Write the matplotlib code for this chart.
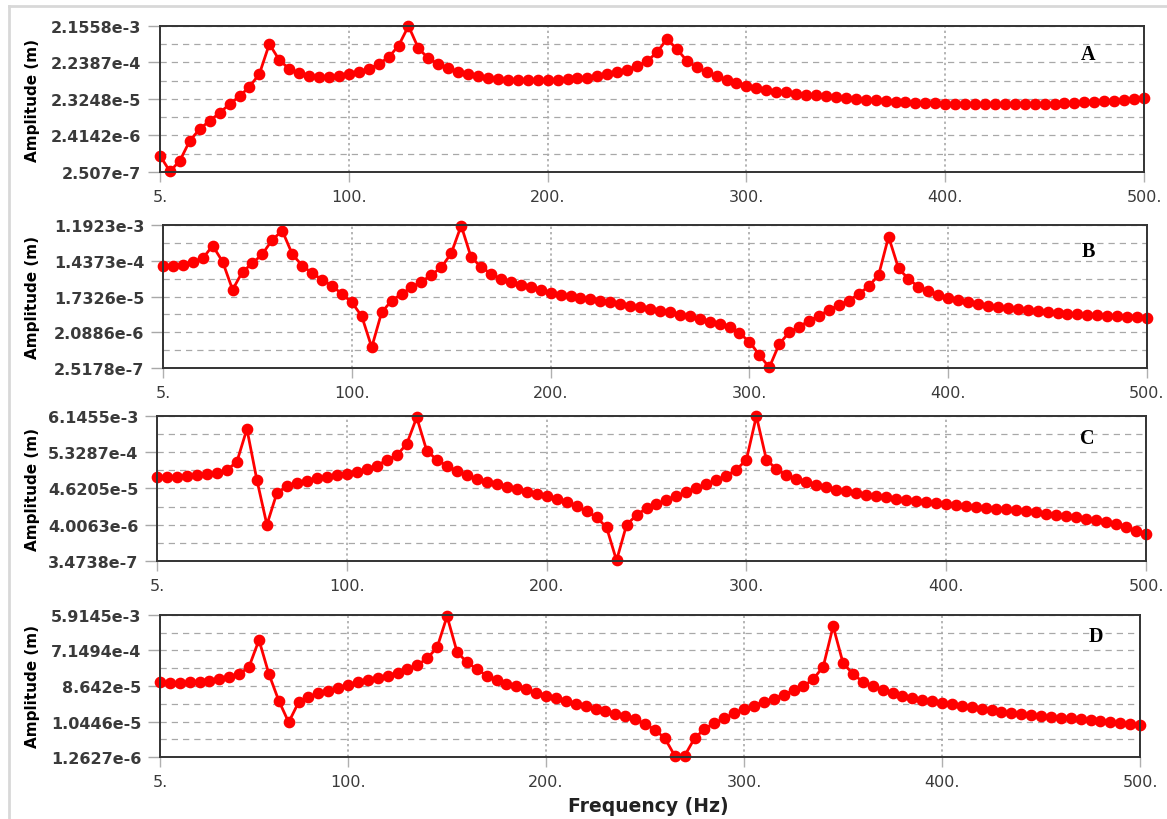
import matplotlib
matplotlib.use("Agg")
import matplotlib.pyplot as plt
from matplotlib.lines import Line2D
from matplotlib.ticker import FixedLocator, NullFormatter

# ---------------- data ----------------
freq = list(range(5, 505, 5))

amp_A = [6.9e-7, 2.6e-7, 5.05e-7, 1.75e-6, 3.61e-6, 6.05e-6, 9.75e-6, 1.70e-5, 2.75e-5, 4.98e-5,
         1.10e-4, 7.06e-4, 2.62e-4, 1.50e-4, 1.17e-4, 9.87e-5, 9.27e-5, 9.27e-5, 9.87e-5, 1.10e-4,
         1.265e-4, 1.50e-4, 2.04e-4, 3.09e-4, 6.35e-4, 2.15e-3, 5.40e-4, 2.90e-4, 2.04e-4, 1.59e-4,
         1.265e-4, 1.10e-4, 9.51e-5, 8.72e-5, 8.04e-5, 7.56e-5, 7.42e-5, 7.42e-5, 7.42e-5, 7.42e-5,
         7.56e-5, 7.89e-5, 8.40e-5, 8.72e-5, 9.51e-5, 1.077e-4, 1.22e-4, 1.43e-4, 1.835e-4, 2.41e-4,
         4.22e-4, 9.62e-4, 5.17e-4, 2.50e-4, 1.66e-4, 1.22e-4, 9.51e-5, 7.56e-5, 6.16e-5, 5.11e-5,
         4.52e-5, 3.99e-5, 3.70e-5, 3.48e-5, 3.27e-5, 3.07e-5, 2.89e-5, 2.72e-5, 2.58e-5, 2.47e-5,
         2.33e-5, 2.23e-5, 2.14e-5, 2.05e-5, 1.99e-5, 1.93e-5, 1.87e-5, 1.81e-5, 1.76e-5, 1.70e-5,
         1.70e-5, 1.70e-5, 1.70e-5, 1.70e-5, 1.70e-5, 1.70e-5, 1.70e-5, 1.70e-5, 1.70e-5, 1.71e-5,
         1.74e-5, 1.78e-5, 1.84e-5, 1.89e-5, 1.95e-5, 2.01e-5, 2.09e-5, 2.18e-5, 2.27e-5, 2.43e-5]

amp_B = [1.073e-4, 1.073e-4, 1.138e-4, 1.358e-4, 1.662e-4, 3.50e-4, 1.358e-4, 2.59e-5, 7.52e-5, 1.236e-4,
         2.14e-4, 4.99e-4, 8.51e-4, 2.14e-4, 1.073e-4, 6.96e-5, 4.68e-5, 3.28e-5, 2.01e-5, 1.229e-5,
         5.37e-6, 8.57e-7, 6.80e-6, 1.351e-5, 2.01e-5, 2.99e-5, 4.16e-5, 6.18e-5, 9.75e-5, 2.23e-4,
         1.15e-3, 1.763e-4, 1.01e-4, 6.56e-5, 4.88e-5, 4.02e-5, 3.42e-5, 2.99e-5, 2.545e-5, 2.13e-5,
         1.894e-5, 1.753e-5, 1.614e-5, 1.494e-5, 1.351e-5, 1.229e-5, 1.111e-5, 1.005e-5, 9.14e-6, 8.27e-6,
         7.48e-6, 6.80e-6, 5.90e-6, 5.37e-6, 4.57e-6, 3.90e-6, 3.40e-6, 2.80e-6, 1.963e-6, 1.194e-6,
         5.43e-7, 2.6e-7, 1.042e-6, 2.08e-6, 2.90e-6, 4.14e-6, 5.56e-6, 7.79e-6, 1.047e-5, 1.351e-5,
         2.01e-5, 3.17e-5, 6.18e-5, 5.97e-4, 9.19e-5, 4.88e-5, 3.09e-5, 2.44e-5, 1.894e-5, 1.585e-5,
         1.408e-5, 1.229e-5, 1.111e-5, 1.005e-5, 9.47e-6, 8.77e-6, 8.27e-6, 7.79e-6, 7.22e-6, 6.80e-6,
         6.53e-6, 6.26e-6, 6.15e-6, 5.90e-6, 5.69e-6, 5.56e-6, 5.37e-6, 5.24e-6, 5.06e-6, 4.94e-6]

amp_C = [1.038e-4, 1.024e-4, 1.038e-4, 1.074e-4, 1.125e-4, 1.188e-4, 1.314e-4, 1.609e-4, 2.818e-4, 2.557e-3,
         8.20e-5, 4.0e-6, 3.41e-5, 5.36e-5, 6.56e-5, 7.82e-5, 9.19e-5, 1.024e-4, 1.149e-4, 1.254e-4,
         1.435e-4, 1.721e-4, 2.15e-4, 3.16e-4, 4.34e-4, 9.30e-4, 5.6e-3, 5.92e-4, 3.22e-4, 2.15e-4,
         1.535e-4, 1.172e-4, 8.77e-5, 7.31e-5, 6.13e-5, 5.22e-5, 4.47e-5, 3.72e-5, 3.19e-5, 2.73e-5,
         2.28e-5, 1.822e-5, 1.390e-5, 9.93e-6, 6.62e-6, 3.37e-6, 3.6e-7, 3.94e-6, 7.73e-6, 1.215e-5,
         1.624e-5, 2.17e-5, 2.84e-5, 3.58e-5, 4.68e-5, 6.26e-5, 8.20e-5, 1.096e-4, 1.642e-4, 3.22e-4,
         6.1e-3, 3.22e-4, 1.721e-4, 1.149e-4, 8.77e-5, 7.02e-5, 5.85e-5, 5.01e-5, 4.26e-5, 3.83e-5,
         3.41e-5, 3.04e-5, 2.79e-5, 2.55e-5, 2.32e-5, 2.13e-5, 1.99e-5, 1.86e-5, 1.737e-5, 1.624e-5,
         1.518e-5, 1.419e-5, 1.326e-5, 1.240e-5, 1.182e-5, 1.136e-5, 1.062e-5, 9.93e-6, 9.28e-6, 8.44e-6,
         7.89e-6, 7.23e-6, 6.62e-6, 6.03e-6, 5.41e-6, 4.83e-6, 4.13e-6, 3.37e-6, 2.68e-6, 2.15e-6]

amp_D = [1.077e-4, 1.033e-4, 1.033e-4, 1.077e-4, 1.116e-4, 1.185e-4, 1.311e-4, 1.451e-4, 1.734e-4, 2.73e-4,
         1.335e-3, 1.765e-4, 3.60e-5, 9.96e-6, 3.28e-5, 4.57e-5, 5.60e-5, 6.53e-5, 7.81e-5, 9.17e-5,
         1.077e-4, 1.235e-4, 1.416e-4, 1.595e-4, 1.907e-4, 2.38e-4, 3.02e-4, 4.49e-4, 8.65e-4, 5.5e-3,
         6.66e-4, 3.54e-4, 2.38e-4, 1.595e-4, 1.235e-4, 9.73e-5, 8.49e-5, 7.10e-5, 5.80e-5, 4.85e-5,
         4.23e-5, 3.54e-5, 3.01e-5, 2.58e-5, 2.24e-5, 1.917e-5, 1.662e-5, 1.449e-5, 1.212e-5, 9.00e-6,
         6.41e-6, 3.84e-6, 1.364e-6, 1.364e-6, 3.84e-6, 6.68e-6, 9.55e-6, 1.264e-5, 1.701e-5, 2.20e-5,
         2.68e-5, 3.40e-5, 4.06e-5, 5.15e-5, 6.69e-5, 8.49e-5, 1.311e-4, 2.73e-4, 3.02e-3, 3.40e-4,
         1.765e-4, 1.116e-4, 8.49e-5, 6.81e-5, 5.60e-5, 4.85e-5, 4.31e-5, 3.82e-5, 3.48e-5, 3.20e-5,
         2.91e-5, 2.63e-5, 2.43e-5, 2.20e-5, 2.03e-5, 1.873e-5, 1.764e-5, 1.632e-5, 1.538e-5, 1.449e-5,
         1.366e-5, 1.31e-5, 1.264e-5, 1.19e-5, 1.142e-5, 1.076e-5, 1.014e-5, 9.55e-6, 9.17e-6, 8.64e-6]

ytick_labels_A = ["2.507e-7", "2.4142e-6", "2.3248e-5", "2.2387e-4", "2.1558e-3"]
ytick_labels_B = ["2.5178e-7", "2.0886e-6", "1.7326e-5", "1.4373e-4", "1.1923e-3"]
ytick_labels_C = ["3.4738e-7", "4.0063e-6", "4.6205e-5", "5.3287e-4", "6.1455e-3"]
ytick_labels_D = ["1.2627e-6", "1.0446e-5", "8.642e-5", "7.1494e-4", "5.9145e-3"]

xticks = [5, 100, 200, 300, 400, 500]
xtick_labels = ["5.", "100.", "200.", "300.", "400.", "500."]
panel_letters = ["A", "B", "C", "D"]

# ---------------- layout ----------------
W, H = 1167, 820
fig = plt.figure(figsize=(W / 100, H / 100), dpi=100)

# (left, top, right, bottom) in pixels
boxes = [(160, 27, 1144, 173), (163, 226, 1147, 369), (157, 417, 1146, 562), (160, 616, 1140, 758)]
letter_pos = [(0.943, 0.808), (0.940, 0.818), (0.941, 0.848), (0.955, 0.852)]

series = [amp_A, amp_B, amp_C, amp_D]
tick_sets = [ytick_labels_A, ytick_labels_B, ytick_labels_C, ytick_labels_D]

RED = "#ff0000"
for i in range(4):
    l, t, r, b = boxes[i]
    ax = fig.add_axes([l / W, 1 - b / H, (r - l) / W, (b - t) / H])
    ax.set_yscale("log")
    ax.plot(freq, series[i], color=RED, lw=2.0, marker="o", ms=7.4,
            markeredgewidth=1.0, markeredgecolor=RED, clip_on=False, zorder=3)
    labels = tick_sets[i]
    tv = [float(s) for s in labels]
    ax.set_xlim(5, 500)
    ax.set_ylim(tv[0], tv[-1])
    ax.yaxis.set_major_locator(FixedLocator(tv))
    ax.set_yticklabels(labels, fontweight="bold")
    mids = [(tv[k] * tv[k + 1]) ** 0.5 for k in range(len(tv) - 1)]
    ax.yaxis.set_minor_locator(FixedLocator(mids))
    ax.yaxis.set_minor_formatter(NullFormatter())
    ax.set_xticks(xticks)
    ax.set_xticklabels(xtick_labels)
    ax.tick_params(axis="y", which="major", length=8.5, width=1, color="#a8a8a8",
                   labelsize=11.5, labelcolor="#3a3a3a", pad=5)
    ax.tick_params(axis="y", which="minor", length=0)
    ax.tick_params(axis="x", which="major", length=7, width=1, color="#b0b0b0",
                   labelsize=11.5, labelcolor="#3a3a3a", pad=5)
    ax.grid(axis="y", which="both", linestyle=(0, (5, 4)), color="#a8a8a8", lw=0.9)
    ax.grid(axis="x", which="major", linestyle=(0, (1.5, 2)), color="#a0a0a0", lw=1.1)
    for s in ax.spines.values():
        s.set_color("#333333")
        s.set_linewidth(1.4)
        s.set_zorder(4)
    ax.text(letter_pos[i][0], letter_pos[i][1], panel_letters[i], transform=ax.transAxes,
            fontfamily="Liberation Serif", fontweight="bold", fontsize=14.5,
            ha="center", va="center")
    fig.text(33 / W, 1 - (t + b) / 2 / H, "Amplitude (m)", rotation=90, ha="center",
             va="center", fontweight="bold", fontsize=11)

fig.text(648 / W, 1 - 807 / H, "Frequency (Hz)", ha="center", va="center",
         fontweight="bold", fontsize=13.5, color="#222222")

# light frame around the figure (left & top edges)
fig.add_artist(Line2D([9 / W, 9 / W], [0, 1 - 7 / H], transform=fig.transFigure,
                      color="#d8d8d8", lw=2))
fig.add_artist(Line2D([9 / W, 1], [1 - 7 / H, 1 - 7 / H], transform=fig.transFigure,
                      color="#d8d8d8", lw=2))

fig.savefig("out.png", dpi=100)
